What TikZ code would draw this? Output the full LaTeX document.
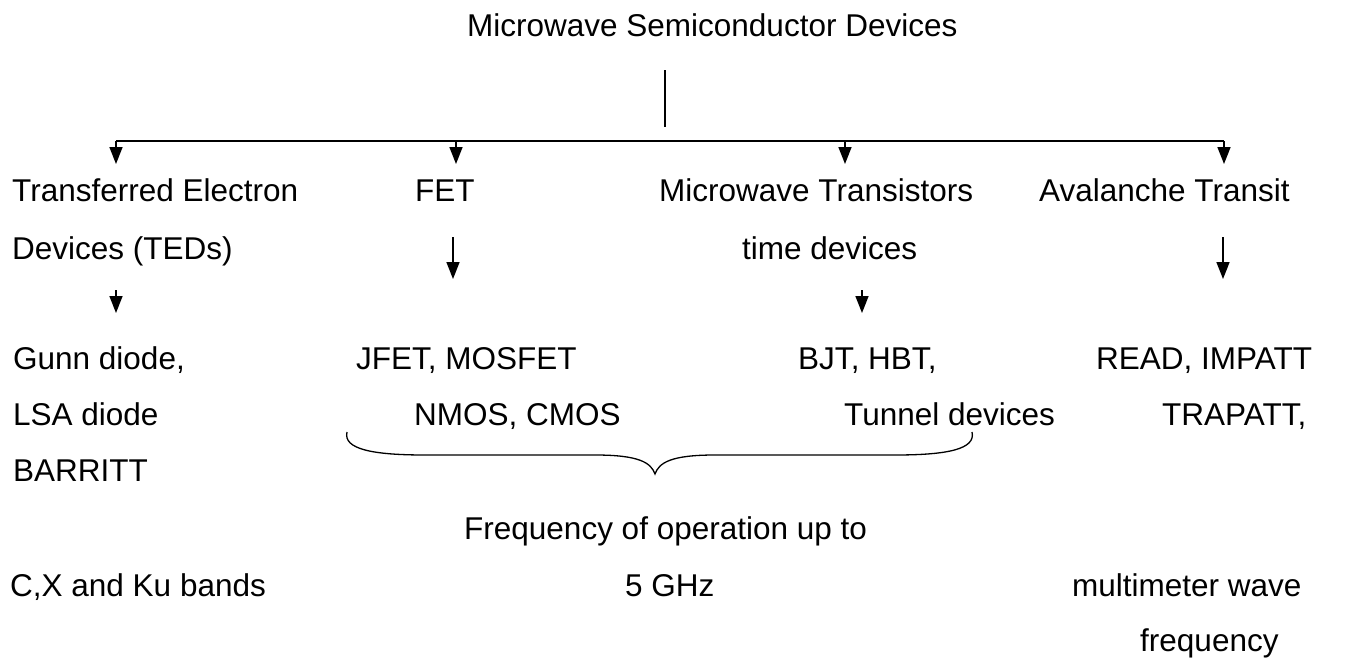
\documentclass[tikz,border=0pt]{standalone}
\usepackage{fontspec}
\setmainfont{Liberation Sans}
\usetikzlibrary{arrows.meta}
\begin{document}
\begin{tikzpicture}[x=1pt,y=-1pt,
  txt/.style={anchor=base west,inner sep=0pt,font=\fontsize{31.5}{36}\selectfont},
  bus/.style={line width=1.6pt},
  arr/.style={line width=1.6pt,-{Triangle[width=13pt,length=17pt]}},
  bracepath/.style={line width=1.3pt}]
\useasboundingbox (0,0) rectangle (1347,664);
% texts
\node[txt] (title) at (467,36) {Microwave Semiconductor Devices};
\node[txt] (ted1) at (12,201) {Transferred Electron};
\node[txt] (fet) at (415,201) {FET};
\node[txt] (mt1) at (659,201) {Microwave Transistors};
\node[txt] (av1) at (1039,201) {Avalanche Transit};
\node[txt] (ted2) at (12,259) {Devices (TEDs)};
\node[txt] (mt2) at (742,259) {time devices};
\node[txt] (gunn) at (13,369) {Gunn diode,};
\node[txt] (jfet) at (356,369) {JFET, MOSFET};
\node[txt] (bjt) at (798,369) {BJT, HBT,};
\node[txt] (read) at (1096,369) {READ, IMPATT};
\node[txt] (lsa) at (13,425) {LSA diode};
\node[txt] (nmos) at (414,425) {NMOS, CMOS};
\node[txt] (tun) at (844,425) {Tunnel devices};
\node[txt] (trap) at (1162,425) {TRAPATT,};
\node[txt] (barr) at (13,481) {BARRITT};
\node[txt] (freq) at (464,539) {Frequency of operation up to};
\node[txt] (cx) at (10,596) {C,X and Ku bands};
\node[txt] (ghz) at (625,596) {5 GHz};
\node[txt] (mm1) at (1072,596) {multimeter wave};
\node[txt] (mm2) at (1140,651) {frequency};
% coordinates
\coordinate (t0) at (665,70);
\coordinate (t1) at (665,127);
\coordinate (hL) at (116,141);
\coordinate (hR) at (1224,141);
\coordinate (a1) at (116,164);
\coordinate (b2) at (456,141);
\coordinate (a2) at (456,164);
\coordinate (b3) at (845,141);
\coordinate (a3) at (845,164);
\coordinate (a4) at (1224,164);
\coordinate (l1s) at (453,237);
\coordinate (l1e) at (453,279);
\coordinate (l2s) at (1223,237);
\coordinate (l2e) at (1223,279);
\coordinate (s1s) at (116,290);
\coordinate (s1e) at (116,313);
\coordinate (s2s) at (862,290);
\coordinate (s2e) at (862,313);
% connectors
\draw[bus] (t0) -- (t1);
\draw[bus] (hL) -- (hR);
\draw[arr] (hL) -- (a1);
\draw[arr] (b2) -- (a2);
\draw[arr] (b3) -- (a3);
\draw[arr] (hR) -- (a4);
\draw[arr] (l1s) -- (l1e);
\draw[arr] (l2s) -- (l2e);
\draw[arr] (s1s) -- (s1e);
\draw[arr] (s2s) -- (s2e);
% brace
\coordinate (brL) at (347,432);
\coordinate (brT) at (655,474);
\coordinate (brR) at (972,432);
\draw[bracepath] (brL) .. controls (343,449) and (372,455) .. (425,455) -- (595,455)
  .. controls (640,455) and (651,463) .. (brT)
  .. controls (659,463) and (670,455) .. (715,455) -- (895,455)
  .. controls (948,455) and (976,449) .. (brR);
\end{tikzpicture}
\end{document}
